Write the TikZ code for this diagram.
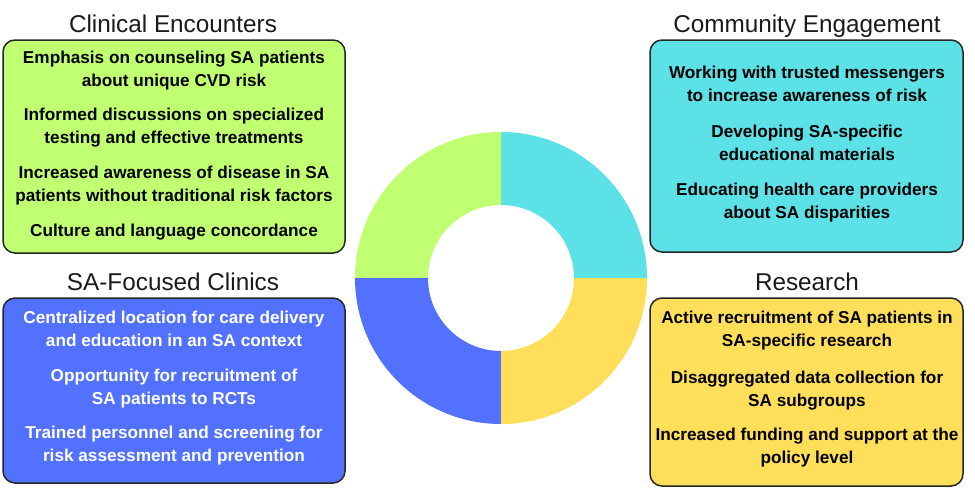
\documentclass[tikz,border=0pt]{standalone}
\usepackage{fontspec}
\setmainfont{Liberation Sans}
\usetikzlibrary{calc}
\definecolor{cgreen}{HTML}{C1FF72}
\definecolor{ccyan}{HTML}{5CE1E6}
\definecolor{cblue}{HTML}{5271FF}
\definecolor{cyellow}{HTML}{FFDE59}
\definecolor{ctitle}{HTML}{1A1A1A}
\begin{document}
\begin{tikzpicture}[x=1pt,y=-1pt,
 panel/.style={draw=black!85, line width=1.5pt, rounded corners=12pt, inner sep=0pt},
 ttl/.style={anchor=base, font=\fontsize{24.3}{28}\selectfont, text=ctitle, inner sep=0pt},
 item/.style={anchor=base, align=center, font=\bfseries\fontsize{17.2}{23.5}\selectfont, inner sep=0pt},
]
\useasboundingbox[fill=white] (0,0) rectangle (975,498);
% donut
\coordinate (ctr) at (501,278);
\fill[ccyan] ($(ctr)+(0:146)$) arc[start angle=0, end angle=-90, radius=146] -- ($(ctr)+(-90:73)$) arc[start angle=-90, end angle=0, radius=73] -- cycle;
\fill[cgreen] ($(ctr)+(-90:146)$) arc[start angle=-90, end angle=-180, radius=146] -- ($(ctr)+(-180:73)$) arc[start angle=-180, end angle=-90, radius=73] -- cycle;
\fill[cblue] ($(ctr)+(180:146)$) arc[start angle=180, end angle=90, radius=146] -- ($(ctr)+(90:73)$) arc[start angle=90, end angle=180, radius=73] -- cycle;
\fill[cyellow] ($(ctr)+(90:146)$) arc[start angle=90, end angle=0, radius=146] -- ($(ctr)+(0:73)$) arc[start angle=0, end angle=90, radius=73] -- cycle;
% panels
\node[panel, fill=cgreen, minimum width=342pt, minimum height=213pt] (b1) at (174,146.5) {};
\node[panel, fill=cblue, minimum width=342pt, minimum height=185pt] (b2) at (174,390.5) {};
\node[panel, fill=ccyan, minimum width=313pt, minimum height=212pt] (b3) at (806.5,146) {};
\node[panel, fill=cyellow, minimum width=313pt, minimum height=188pt] (b4) at (806.5,392) {};
% titles
\node[ttl] (t1) at (173,32) {Clinical Encounters};
\node[ttl] (t2) at (173,290) {SA-Focused Clinics};
\node[ttl] (t3) at (807,32) {Community Engagement};
\node[ttl] (t4) at (807,290) {Research};
% items (anchor = baseline of last line)
\node[item] (c1) at (174,86.5) {Emphasis on counseling SA patients\\about unique CVD risk};
\node[item] (c2) at (174,143.5) {Informed discussions on specialized\\testing and effective treatments};
\node[item] (c3) at (174,201.5) {Increased awareness of disease in SA\\patients without traditional risk factors};
\node[item] (c4) at (174,236) {Culture and language concordance};
\node[item, text=white] (s1) at (174,346.5) {Centralized location for care delivery\\and education in an SA context};
\node[item, text=white] (s2) at (174,404.5) {Opportunity for recruitment of\\SA patients to RCTs};
\node[item, text=white] (s3) at (174,461.5) {Trained personnel and screening for\\risk assessment and prevention};
\node[item] (e1) at (807,101.5) {Working with trusted messengers\\to increase awareness of risk};
\node[item] (e2) at (807,160.5) {Developing SA-specific\\educational materials};
\node[item] (e3) at (807,218.5) {Educating health care providers\\about SA disparities};
\node[item] (r1) at (807,346.5) {Active recruitment of SA patients in\\SA-specific research};
\node[item] (r2) at (807,406.5) {Disaggregated data collection for\\SA subgroups};
\node[item] (r3) at (807,463.5) {Increased funding and support at the\\policy level};
\end{tikzpicture}
\end{document}
